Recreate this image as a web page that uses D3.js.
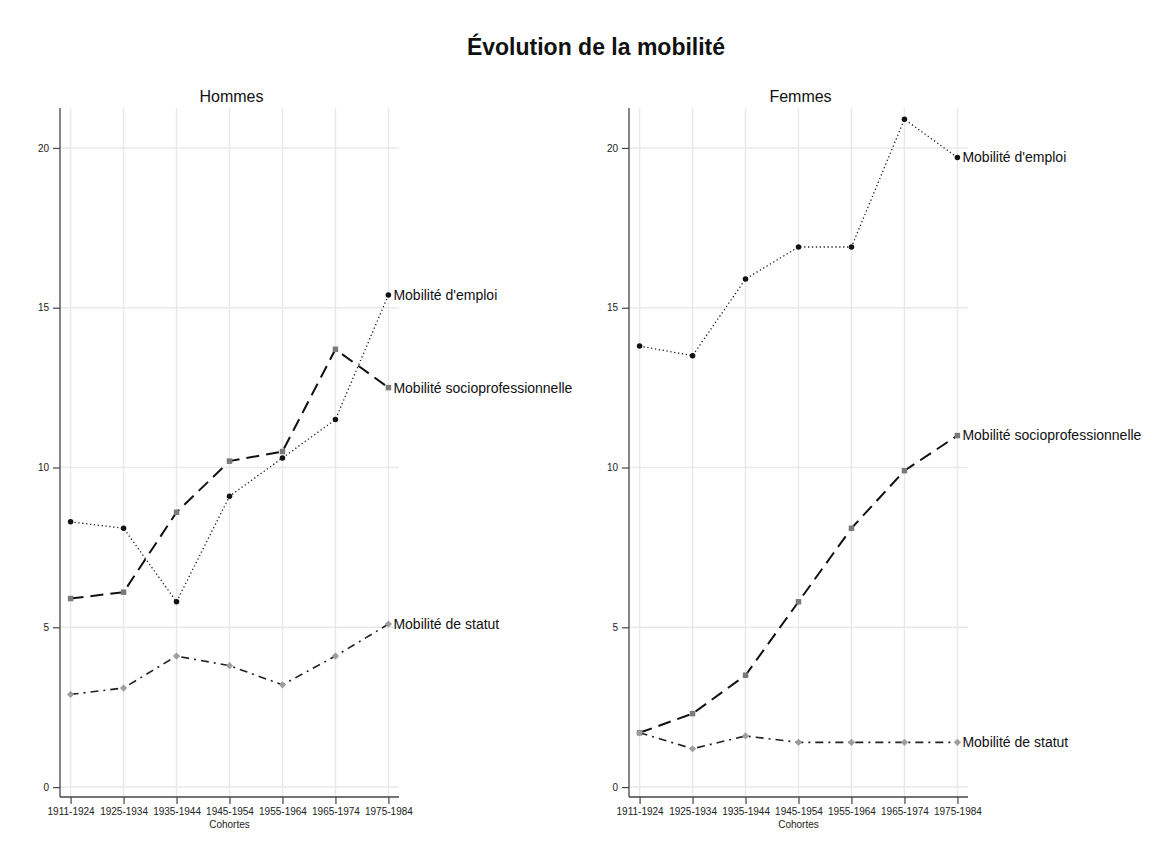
<!DOCTYPE html>
<html>
<head>
<meta charset="utf-8">
<script src="https://cdn.jsdelivr.net/npm/d3@7"></script>
<style>
  body { margin: 0; background: #fff; }
  svg { font-family: "Liberation Sans", Arial, sans-serif; }
</style>
</head>
<body>
<svg id="chart" width="1171" height="867"></svg>
<script>
const cohortes = ["1911-1924","1925-1934","1935-1944","1945-1954","1955-1964","1965-1974","1975-1984"];
const yTicks = [0, 5, 10, 15, 20];

const hommesEmploi = [8.3, 8.1, 5.8, 9.1, 10.3, 11.5, 15.4];
const hommesSocio  = [5.9, 6.1, 8.6, 10.2, 10.5, 13.7, 12.5];
const hommesStatut = [2.9, 3.1, 4.1, 3.8, 3.2, 4.1, 5.1];

const femmesEmploi = [13.8, 13.5, 15.9, 16.9, 16.9, 20.9, 19.7];
const femmesSocio  = [1.7, 2.3, 3.5, 5.8, 8.1, 9.9, 11.0];
const femmesStatut = [1.7, 1.2, 1.6, 1.4, 1.4, 1.4, 1.4];

const seriesNames = ["Mobilité d'emploi", "Mobilité socioprofessionnelle", "Mobilité de statut"];
const panelTitles = ["Hommes", "Femmes"];

const panels = [
  { title: panelTitles[0], x0: 60, x1: 399, series: [hommesEmploi, hommesSocio, hommesStatut] },
  { title: panelTitles[1], x0: 629, x1: 968, series: [femmesEmploi, femmesSocio, femmesStatut] }
];

const styles = [
  { stroke: "#222", width: 1.3, dash: "1.3,2.6", marker: "circle", fill: "#111", rot: 0 },
  { stroke: "#111", width: 2, dash: "13,7", marker: "square", fill: "#7a7a7a", rot: 0 },
  { stroke: "#222", width: 1.6, dash: "8,5,2,5", marker: "diamond", fill: "#9e9e9e", rot: 45 }
];

const svg = d3.select("#chart");

svg.append("text")
  .attr("x", 596).attr("y", 55)
  .attr("text-anchor", "middle")
  .attr("font-size", 23).attr("font-weight", "bold")
  .attr("fill", "#111")
  .text("Évolution de la mobilité");

const yTop = 108, yBot = 797;
const y = d3.scaleLinear().domain([-0.31, 21.25]).range([yBot, yTop]);

panels.forEach(p => {
  const x = d3.scalePoint().domain(cohortes).range([p.x0, p.x1]).padding(0.2);
  const g = svg.append("g");

  g.selectAll(".vg").data(cohortes).enter().append("line")
    .attr("x1", d => x(d)).attr("x2", d => x(d))
    .attr("y1", yTop).attr("y2", yBot)
    .attr("stroke", "#e9e9e9").attr("stroke-width", 1.5);
  g.selectAll(".hg").data(yTicks).enter().append("line")
    .attr("x1", p.x0).attr("x2", p.x1)
    .attr("y1", d => y(d)).attr("y2", d => y(d))
    .attr("stroke", "#e9e9e9").attr("stroke-width", 1.5);

  const yAxis = d3.axisLeft(y).tickValues(yTicks).tickSize(7).tickPadding(4);
  const ya = g.append("g").attr("transform", `translate(${p.x0},0)`).call(yAxis);
  const xAxis = d3.axisBottom(x).tickSize(7).tickPadding(4);
  const xa = g.append("g").attr("transform", `translate(0,${yBot})`).call(xAxis);
  [ya, xa].forEach(a => {
    a.select(".domain").attr("stroke", "#444").attr("stroke-width", 1.3);
    a.selectAll(".tick line").attr("stroke", "#444").attr("stroke-width", 1.2);
    a.selectAll(".tick text").attr("font-size", 10).attr("fill", "#222")
      .attr("font-family", "Liberation Sans, Arial, sans-serif");
  });
  ya.select(".domain").attr("d", `M0,${yTop}V${yBot}`);
  xa.select(".domain").attr("d", `M${p.x0},0H${p.x1}`);

  g.append("text")
    .attr("x", (p.x0 + p.x1) / 2).attr("y", 828)
    .attr("text-anchor", "middle").attr("font-size", 10).attr("fill", "#222")
    .text("Cohortes");

  g.append("text")
    .attr("x", (p.x0 + p.x1) / 2 + 2).attr("y", 102)
    .attr("text-anchor", "middle").attr("font-size", 16).attr("fill", "#111")
    .text(p.title);

  p.series.forEach((vals, i) => {
    const st = styles[i];
    const data = vals.map((v, k) => ({ c: cohortes[k], v }));
    const line = d3.line().x(d => x(d.c)).y(d => y(d.v));
    g.append("path").datum(data)
      .attr("d", line).attr("fill", "none")
      .attr("stroke", st.stroke).attr("stroke-width", st.width)
      .attr("stroke-dasharray", st.dash);
    const sym = st.marker === "circle" ? d3.symbolCircle : d3.symbolSquare;
    const size = st.marker === "circle" ? 24 : st.marker === "square" ? 30 : 26;
    g.selectAll(null).data(data).enter().append("path")
      .attr("d", d3.symbol().type(sym).size(size))
      .attr("transform", d => `translate(${x(d.c)},${y(d.v)}) rotate(${st.rot})`)
      .attr("fill", st.fill);
    const last = data[data.length - 1];
    g.append("text")
      .attr("x", x(last.c) + 5).attr("y", y(last.v))
      .attr("dy", "0.35em").attr("font-size", 14).attr("fill", "#111")
      .text(seriesNames[i]);
  });
});
</script>
</body>
</html>
